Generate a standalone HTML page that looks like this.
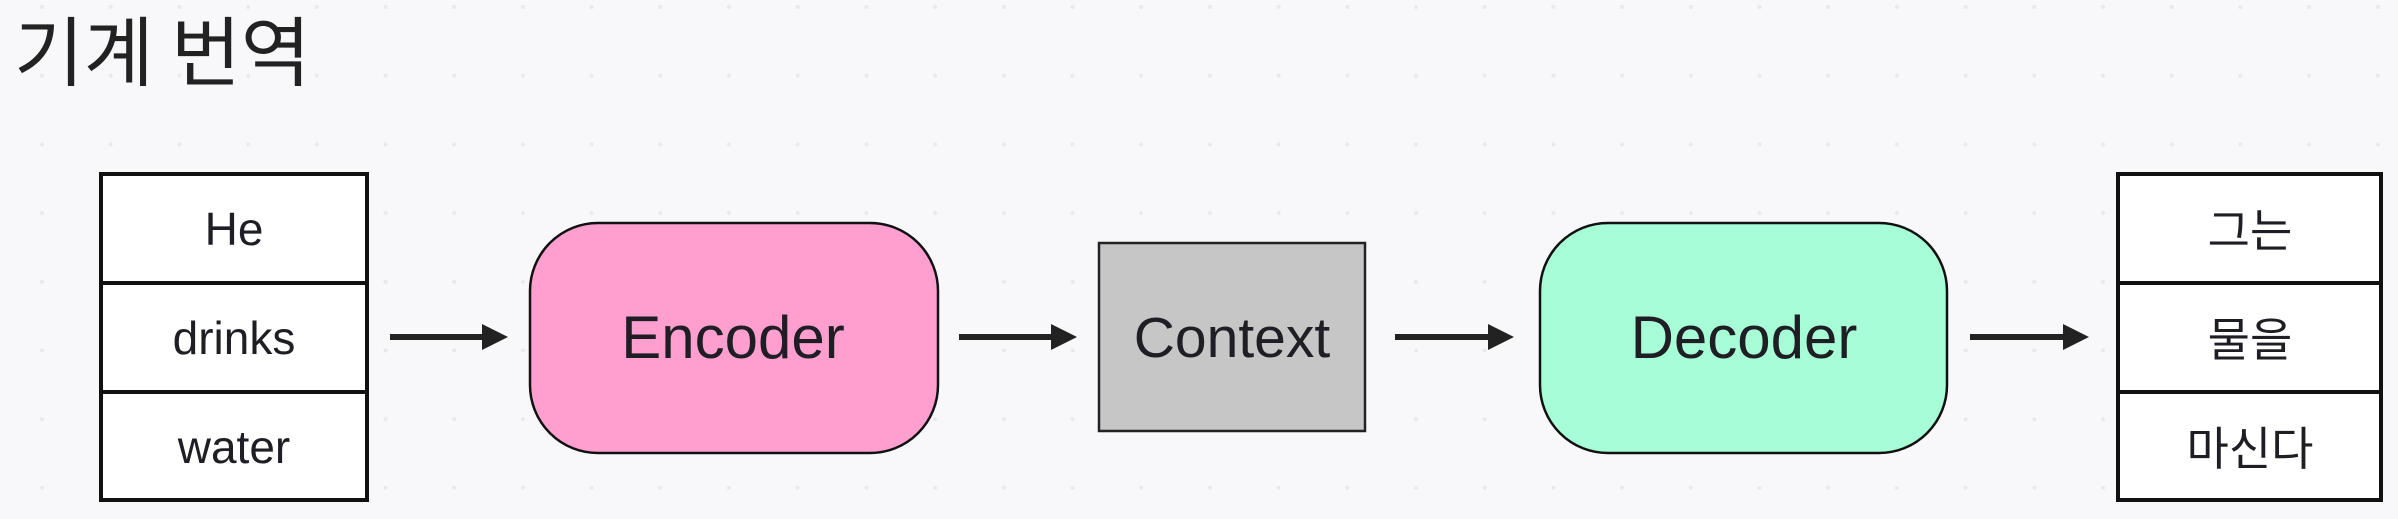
<!DOCTYPE html>
<html><head><meta charset="utf-8"><style>
html,body{margin:0;padding:0;background:#f8f8fa;}
body{width:2398px;height:519px;overflow:hidden;position:relative;font-family:"Liberation Sans","Noto Sans CJK KR",sans-serif;color:#1e1e24;}
</style></head><body>
<svg width="2398" height="519" style="position:absolute;left:0;top:0">
<defs><pattern id="d" x="0" y="0" width="68.7" height="68.7" patternUnits="userSpaceOnUse"><circle cx="42" cy="7" r="2" fill="#e8e8ef"/></pattern></defs>
<rect width="2398" height="519" fill="url(#d)"/>
<text x="14" y="80" font-size="76" font-weight="400" font-family="Noto Sans CJK KR, sans-serif" fill="#222">기계 번역</text>
<g stroke="#111" stroke-width="4" fill="#fff">
<rect x="101" y="174" width="266" height="326"/>
<line x1="101" y1="283" x2="367" y2="283"/>
<line x1="101" y1="392" x2="367" y2="392"/>
<rect x="2118" y="174" width="263" height="326"/>
<line x1="2118" y1="283" x2="2381" y2="283"/>
<line x1="2118" y1="392" x2="2381" y2="392"/>
</g>
<g font-size="46" text-anchor="middle" fill="#1e1e24" font-family="Liberation Sans, Noto Sans CJK KR, sans-serif">
<text x="234" y="245">He</text>
<text x="234" y="354">drinks</text>
<text x="234" y="463">water</text>
<text x="2250" y="247" font-family="Noto Sans CJK KR, sans-serif">그는</text>
<text x="2250" y="356" font-family="Noto Sans CJK KR, sans-serif">물을</text>
<text x="2250" y="465" font-family="Noto Sans CJK KR, sans-serif">마신다</text>
</g>
<rect x="530" y="223" width="408" height="230" rx="68" fill="#ff9fcf" stroke="#111" stroke-width="2.5"/>
<rect x="1099" y="243" width="266" height="188" fill="#c6c6c6" stroke="#222" stroke-width="2.5"/>
<rect x="1540" y="223" width="407" height="230" rx="68" fill="#a6fdd6" stroke="#111" stroke-width="2.5"/>
<g font-size="60" text-anchor="middle" fill="#1e1e24" font-family="Liberation Sans, sans-serif">
<text x="733" y="358">Encoder</text>
<text x="1232" y="357" font-size="57">Context</text>
<text x="1744" y="358">Decoder</text>
</g>
<g fill="#222" stroke="#222">
<line x1="390" y1="337" x2="488" y2="337" stroke-width="6"/><polygon points="482,324 508,337 482,350" stroke="none"/>
<line x1="959" y1="337" x2="1057" y2="337" stroke-width="6"/><polygon points="1051,324 1077,337 1051,350" stroke="none"/>
<line x1="1395" y1="337" x2="1494" y2="337" stroke-width="6"/><polygon points="1488,324 1514,337 1488,350" stroke="none"/>
<line x1="1970" y1="337" x2="2069" y2="337" stroke-width="6"/><polygon points="2063,324 2089,337 2063,350" stroke="none"/>
</g>
</svg>
</body></html>
